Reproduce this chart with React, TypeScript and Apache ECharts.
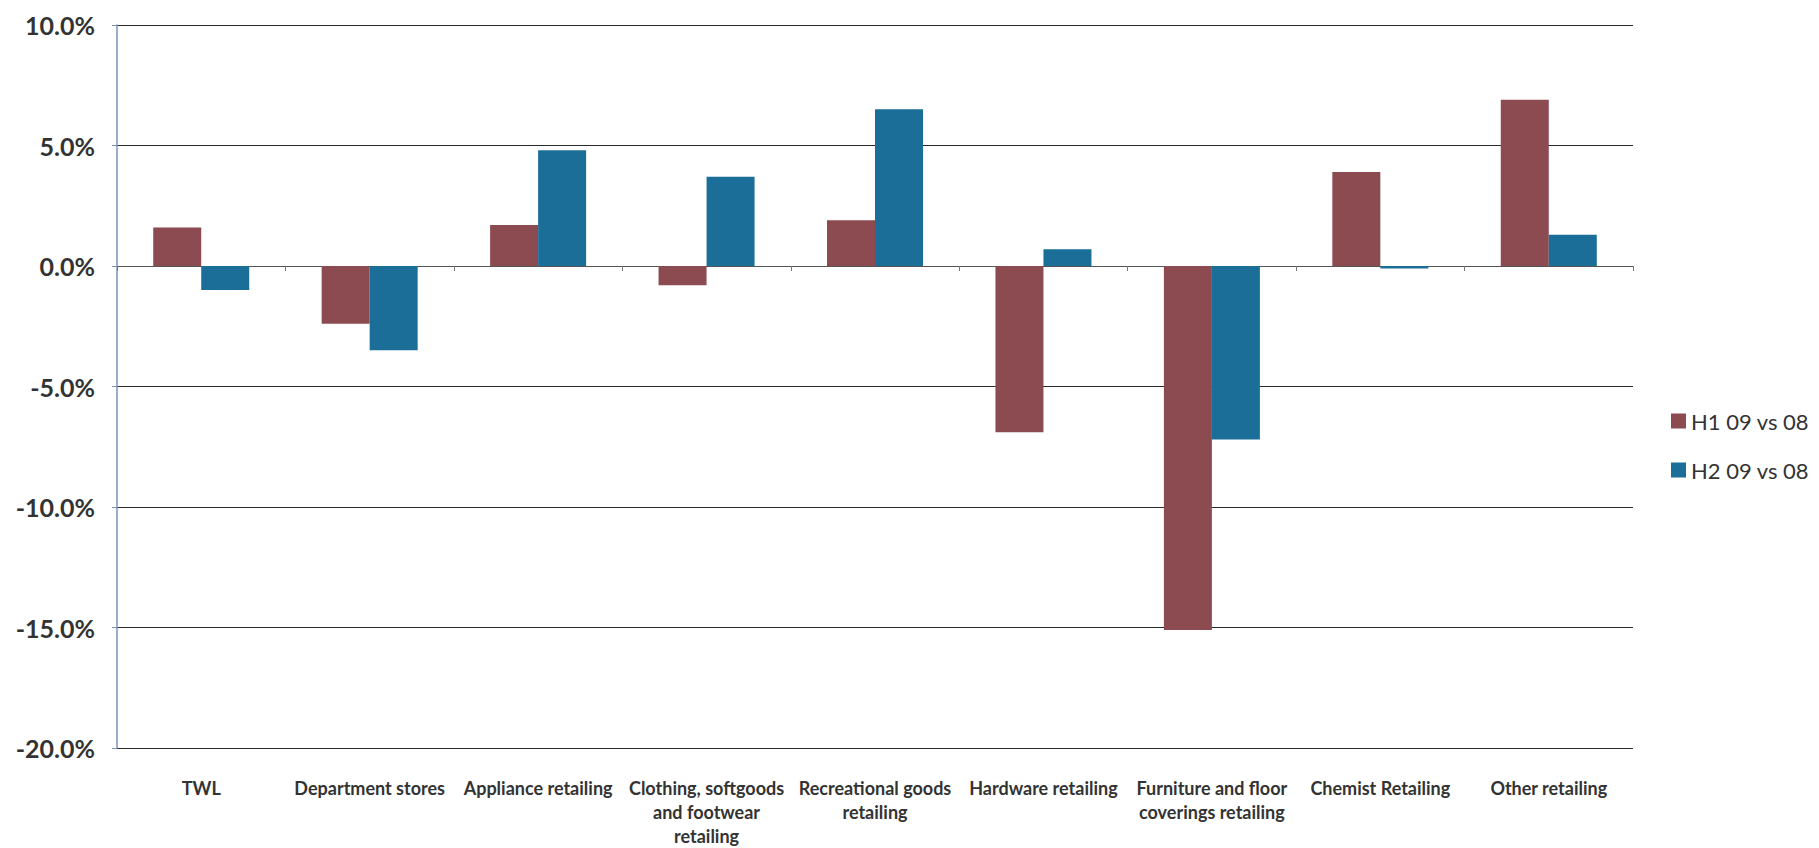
import React, { useEffect, useRef } from "react";
import * as echarts from "echarts";

const categories = [
  "TWL",
  "Department stores",
  "Appliance retailing",
  "Clothing, softgoods\nand footwear\nretailing",
  "Recreational goods\nretailing",
  "Hardware retailing",
  "Furniture and floor\ncoverings retailing",
  "Chemist Retailing",
  "Other retailing",
];
const seriesNames = ["H1 09 vs 08", "H2 09 vs 08"];
const h1Values = [1.6, -2.4, 1.7, -0.8, 1.9, -6.9, -15.1, 3.9, 6.9];
const h2Values = [-1.0, -3.5, 4.8, 3.7, 6.5, 0.7, -7.2, -0.1, 1.3];
const yMin = -20;
const yMax = 10;
const yInterval = 5;

const colors = ["#8C4B50", "#1B6E98"];

export default function App() {
  const ref = useRef<HTMLDivElement>(null);
  useEffect(() => {
    if (!ref.current) return;
    const chart = echarts.init(ref.current, null, { renderer: "svg" });
    chart.setOption({
      animation: false,
      backgroundColor: "#ffffff",
      textStyle: { fontFamily: "Lato" },
      grid: { left: 117, top: 25, right: 186, bottom: 91, containLabel: false },
      legend: {
        orient: "vertical",
        left: 1666,
        top: 404,
        itemWidth: 15,
        itemHeight: 15,
        itemGap: 25,
        icon: "rect",
        data: seriesNames,
        textStyle: { fontFamily: "Lato", fontSize: 22, color: "#333333", lineHeight: 24 },
      },
      xAxis: [
        {
          type: "category",
          data: categories,
          position: "bottom",
          axisLine: { show: false, onZero: false },
          axisTick: { show: false },
          axisLabel: {
            interval: 0,
            margin: 28,
            fontFamily: "Lato",
            fontWeight: "bold",
            fontSize: 18,
            lineHeight: 24,
            color: "#333333",
            align: "center",
          },
        },
        {
          type: "category",
          data: categories,
          position: "bottom",
          axisLine: { show: true, onZero: true, lineStyle: { color: "#555555", width: 1 } },
          axisTick: { show: true, length: 5, lineStyle: { color: "#777777" } },
          axisLabel: { show: false },
        },
      ],
      yAxis: {
        type: "value",
        min: yMin,
        max: yMax,
        interval: yInterval,
        axisLine: { show: true, lineStyle: { color: "#7B93BD", width: 1.5 } },
        axisTick: { show: true, length: 5, lineStyle: { color: "#7B93BD" } },
        splitLine: { show: true, lineStyle: { color: "#2b2b2b", width: 1.2 } },
        axisLabel: {
          margin: 22,
          fontFamily: "Lato",
          fontWeight: "bold",
          fontSize: 25,
          color: "#333333",
          formatter: (v: number) => v.toFixed(1) + "%",
        },
      },
      series: [
        {
          name: seriesNames[0],
          type: "bar",
          data: h1Values,
          xAxisIndex: 0,
          barGap: "0%",
          barCategoryGap: "43%",
          itemStyle: { color: colors[0] },
        },
        {
          name: seriesNames[1],
          type: "bar",
          data: h2Values,
          xAxisIndex: 0,
          barGap: "0%",
          barCategoryGap: "43%",
          itemStyle: { color: colors[1] },
        },
      ],
    });
    return () => chart.dispose();
  }, []);
  return (
    <div
      ref={ref}
      style={{ position: "fixed", left: 0, top: 0, width: 1819, height: 848, background: "#fff" }}
    />
  );
}
